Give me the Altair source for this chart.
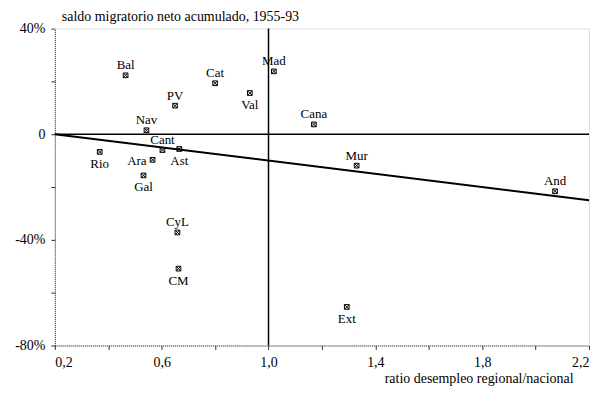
import altair as alt
import pandas as pd

regions = ["Bal", "Cat", "PV", "Val", "Mad", "Cana", "Nav", "Cant", "Ast",
           "Rio", "Ara", "Gal", "CyL", "CM", "Ext", "Mur", "And"]
ratio = [0.465, 0.80, 0.65, 0.93, 1.02, 1.17, 0.543, 0.603, 0.666,
         0.368, 0.566, 0.532, 0.659, 0.663, 1.293, 1.33, 2.073]
saldo = [22.3, 19.3, 10.8, 15.6, 23.8, 3.7, 1.5, -6.0, -5.6,
         -6.7, -9.7, -15.6, -37.2, -50.9, -65.4, -11.9, -21.6]
placement = ["above", "above", "above", "below", "above", "above", "above", "above", "below",
             "below", "left", "below", "above", "below", "below", "above", "above"]

fit_x = [0.2, 2.2]
fit_y = [0.0, -25.0]

x_ticks = [0.2, 0.4, 0.6, 0.8, 1.0, 1.2, 1.4, 1.6, 1.8, 2.0, 2.2]
y_ticks = [-80, -60, -40, -20, 0, 20, 40]

df = pd.DataFrame({"region": regions, "ratio": ratio, "saldo": saldo, "pos": placement})
fit = pd.DataFrame({"ratio": fit_x, "saldo": fit_y})

FONT = "Liberation Serif"

xscale = alt.Scale(domain=[0.2, 2.2], nice=False, zero=False)
yscale = alt.Scale(domain=[-80, 40], nice=False, zero=False)

x_enc = alt.X("ratio:Q", scale=xscale, axis=alt.Axis(
    values=x_ticks,
    title="ratio desempleo regional/nacional",
    titleX=520, titleY=37, titleAlign="right", titleBaseline="alphabetic",
    titleFont=FONT, titleFontSize=14, titleFontWeight="normal", titleColor="black",
    labelExpr="indexof(['0.2','0.6','1.0','1.4','1.8','2.2'], format(datum.value, '.1f')) >= 0 ? replace(format(datum.value, '.1f'), '.', ',') : ''",
    labelFont=FONT, labelFontSize=14, labelColor="black", labelPadding=6,
    tickSize=4, tickColor="#333", domainColor="#333", domainDash=[1, 1],
    grid=False,
))
y_enc = alt.Y("saldo:Q", scale=yscale, axis=alt.Axis(
    values=y_ticks, title=None,
    labelExpr="datum.value == 0 ? '0' : (datum.value % 40 == 0 ? datum.value + '%' : '')",
    labelFont=FONT, labelFontSize=14, labelColor="black", labelPadding=6,
    tickSize=4, tickColor="#333", domainColor="#333", domainDash=[1, 1],
    grid=False,
))

marker = "M-1,-1H1V1H-1Z M-1,-1L1,1 M-1,1L1,-1"

points = alt.Chart(df).mark_point(shape=marker, size=22, filled=False, color="black", strokeWidth=1, opacity=1).encode(
    x=x_enc, y=y_enc)

hline = alt.Chart(pd.DataFrame({"saldo": [0]})).mark_rule(color="black", strokeWidth=1.5).encode(y="saldo:Q")
vline = alt.Chart(pd.DataFrame({"ratio": [1.0]})).mark_rule(color="black", strokeWidth=1.5).encode(x="ratio:Q")

fitline = alt.Chart(fit).mark_line(color="black", strokeWidth=2).encode(x="ratio:Q", y="saldo:Q")

txt_above = alt.Chart(df).transform_filter("datum.pos == 'above'").mark_text(
    font=FONT, fontSize=13, align="center", baseline="alphabetic", dy=-6, color="black").encode(
    x="ratio:Q", y="saldo:Q", text="region:N")
txt_below = alt.Chart(df).transform_filter("datum.pos == 'below'").mark_text(
    font=FONT, fontSize=13, align="center", baseline="top", dy=6, color="black").encode(
    x="ratio:Q", y="saldo:Q", text="region:N")
txt_left = alt.Chart(df).transform_filter("datum.pos == 'left'").mark_text(
    font=FONT, fontSize=13, align="right", baseline="middle", dx=-6, dy=1, color="black").encode(
    x="ratio:Q", y="saldo:Q", text="region:N")

chart = alt.layer(hline, vline, fitline, points, txt_above, txt_below, txt_left).properties(
    width=536, height=318,
    autosize=alt.AutoSizeParams(type="none"),
    padding={"left": 47, "top": 20, "right": 1, "bottom": 40},
    title=alt.TitleParams("saldo migratorio neto acumulado, 1955-93", anchor="start", frame="group",
                          dx=7, offset=-2,
                          font=FONT, fontSize=14, fontWeight="normal", color="black"),
).configure_view(stroke="#555", strokeDash=[1, 1], strokeWidth=1).configure(font=FONT)

chart.save("out.html", embed_options={"renderer": "svg", "actions": False})
